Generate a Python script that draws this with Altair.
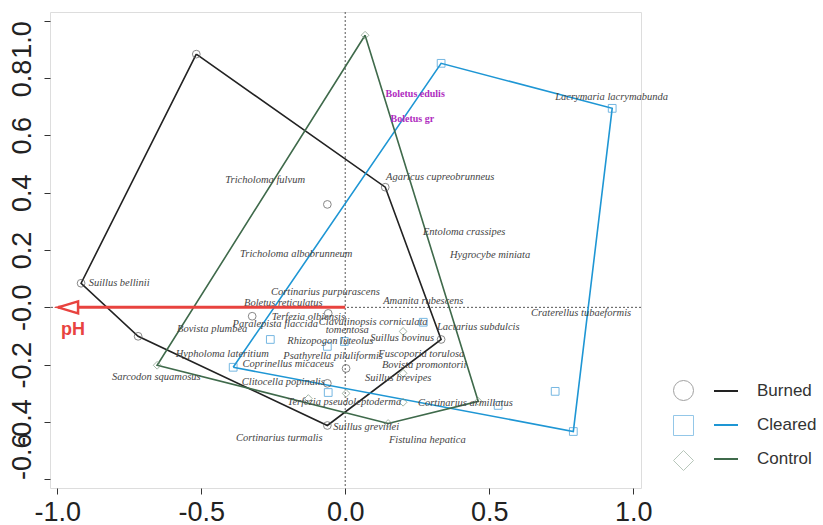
import altair as alt
import pandas as pd

# ---- site scores (CCA axis 1 / axis 2) per treatment ----
burned_x = [-0.517, 0.139, 0.333, -0.062, -0.719, -0.917, -0.062, -0.323, -0.059, 0.003, -0.062]
burned_y = [0.883, 0.419, -0.112, -0.412, -0.101, 0.084, 0.359, -0.031, -0.021, -0.213, -0.265]
burned_hull = [0, 1, 2, 3, 4, 5]

cleared_x = [0.333, 0.927, 0.792, -0.389, -0.260, -0.062, -0.003, 0.271, -0.059, 0.531, 0.729]
cleared_y = [0.851, 0.694, -0.433, -0.209, -0.112, -0.136, -0.119, -0.052, -0.297, -0.342, -0.293]
cleared_hull = [3, 0, 1, 2]

control_x = [0.069, 0.462, 0.149, -0.653, 0.201, 0.201, 0.003, -0.128, 0.201]
control_y = [0.949, -0.328, -0.405, -0.202, -0.084, -0.230, -0.300, -0.318, -0.331]
control_hull = [0, 1, 2, 3]

groups = ["Burned", "Cleared", "Control"]
site_codes = ["burned", "cleared", "control"]
hull_colors = ["#222222", "#1e96d4", "#3f6a4b"]
site_colors = ["#555555", "#3d9ad6", "#7d9882"]
site_shapes = ["circle", "square", "diamond"]

# ---- species scores ----
species = [
    "Boletus edulis", "Boletus gr", "Lacrymaria lacrymabunda", "Agaricus cupreobrunneus",
    "Tricholoma fulvum", "Tricholoma albobrunneum", "Entoloma crassipes", "Hygrocybe miniata",
    "Amanita rubescens", "Craterellus tubaeformis", "Lactarius subdulcis", "Suillus bellinii",
    "Cortinarius purpurascens", "Boletus reticulatus", "Terfezia olbiensis", "Paralepista flaccida",
    "Bovista plumbea", "Clavulinopsis corniculata", "tomentosa", "Rhizopogon luteolus",
    "Suillus bovinus", "Hypholoma lateritium", "Psathyrella piluliformis", "Fuscoporia torulosa",
    "Bovista promontorii", "Coprinellus micaceus", "Sarcodon squamosus", "Suillus brevipes",
    "Clitocella popinalis", "Terfezia pseudoleptoderma", "Cortinarius armillatus",
    "Suillus grevillei", "Cortinarius turmalis", "Fistulina hepatica",
]
species_x = [
    0.243, 0.233, 0.925, 0.330,
    -0.278, -0.170, 0.413, 0.503,
    0.271, 0.819, 0.462, -0.785,
    -0.069, -0.215, -0.128, -0.243,
    -0.462, 0.097, 0.007, -0.052,
    0.198, -0.427, -0.042, 0.264,
    0.274, -0.198, -0.656, 0.184,
    -0.215, -0.003, 0.417,
    0.073, -0.229, 0.285,
]
species_y = [
    0.743, 0.656, 0.733, 0.454,
    0.443, 0.185, 0.262, 0.181,
    0.021, -0.021, -0.070, 0.084,
    0.052, 0.014, -0.035, -0.059,
    -0.077, -0.052, -0.080, -0.119,
    -0.108, -0.161, -0.171, -0.161,
    -0.202, -0.199, -0.244, -0.248,
    -0.262, -0.331, -0.335,
    -0.419, -0.454, -0.464,
]
highlighted = ["Boletus edulis", "Boletus gr"]

# ---- environmental vector ----
env_name = ["pH"]
env_x = [-0.997]
env_y = [0.0]

# ---- tables ----
site_rows, hull_rows = [], []
for g, code, xs, ys, hull in [
    ("Burned", "burned", burned_x, burned_y, burned_hull),
    ("Cleared", "cleared", cleared_x, cleared_y, cleared_hull),
    ("Control", "control", control_x, control_y, control_hull),
]:
    for x, y in zip(xs, ys):
        site_rows.append({"site_group": code, "x": x, "y": y})
    for k, i in enumerate(hull + hull[:1]):
        hull_rows.append({"group": g, "k": k, "x": xs[i], "y": ys[i]})
sites = pd.DataFrame(site_rows)
hulls = pd.DataFrame(hull_rows)
spp = pd.DataFrame({"name": species, "x": species_x, "y": species_y})
spp["hl"] = spp["name"].isin(highlighted)
env = pd.DataFrame({"name": env_name, "x": env_x, "y": env_y, "x0": [0.0] * len(env_x)})
origin = pd.DataFrame({"v": [0.0]})

FONT = "Liberation Sans"
xscale = alt.Scale(domain=[-1.025, 1.027], nice=False, zero=False)
yscale = alt.Scale(domain=[-0.63, 1.03], nice=False, zero=False)
xaxis = alt.Axis(
    values=[-1.0, -0.5, 0.0, 0.5, 1.0],
    labelExpr="(datum.value < 0 ? '-' : '') + format(abs(datum.value), '.1f')",
    title=None, grid=False, domain=False,
    labelFont=FONT, labelFontSize=27, labelColor="#222222",
    tickSize=6, tickColor="#333333", labelPadding=5, labelFlush=False,
)
# end labels of the rotated y axis are kept inside the frame
yaxis = alt.Axis(
    values=[-0.6, -0.4, -0.2, 0.0, 0.2, 0.4, 0.6, 0.8, 1.0],
    labelExpr="(datum.value <= 0 ? '-' : '') + format(abs(datum.value), '.1f')",
    title=None, grid=False, domain=False,
    labelFont=FONT, labelFontSize=27, labelColor="#222222",
    labelAngle=270, labelBaseline="bottom",
    labelAlign={
        "condition": [
            {"test": "datum.value > 0.99", "value": "right"},
            {"test": "datum.value < -0.59", "value": "left"},
        ],
        "value": "center",
    },
    tickSize=6, tickColor="#333333", labelPadding=8,
    labelOverlap=False, labelFlush=False,
)
X = lambda f="x": alt.X(f"{f}:Q", scale=xscale, axis=xaxis)
Y = lambda f="y": alt.Y(f"{f}:Q", scale=yscale, axis=yaxis)

# dotted zero lines
vline = alt.Chart(origin).mark_rule(color="#555555", strokeDash=[2, 2], strokeWidth=1).encode(
    x=alt.X("v:Q", scale=xscale, axis=xaxis))
hline = alt.Chart(origin).mark_rule(color="#555555", strokeDash=[2, 2], strokeWidth=1).encode(
    y=alt.Y("v:Q", scale=yscale, axis=yaxis))

# convex hulls
hull_layer = alt.Chart(hulls).mark_line(strokeWidth=1.6).encode(
    x=X(), y=Y(),
    order="k:Q",
    color=alt.Color(
        "group:N",
        scale=alt.Scale(domain=groups, range=hull_colors),
        legend=alt.Legend(
            orient="none", legendX=663, legendY=366, title=None,
            symbolType="stroke", symbolSize=576, symbolStrokeWidth=2,
            labelFont=FONT, labelFontSize=17, labelColor="#333333",
            labelOffset=18, rowPadding=13, padding=0,
        ),
    ),
)

# site markers; their legend shows the marker shapes beside the hull-line legend
site_legend = alt.Legend(
    orient="none", legendX=623, legendY=368, title=None,
    symbolSize=400, symbolStrokeWidth=1, symbolOpacity=0.55,
    symbolStrokeColor={"expr": "datum.value === 'cleared' ? '#3d9ad6' : '#666666'"},
    labelExpr="''", labelFontSize=1, labelOffset=0, rowPadding=10, padding=0,
)
site_layer = alt.Chart(sites).mark_point(size=60, filled=False, strokeWidth=1).encode(
    x=X(), y=Y(),
    shape=alt.Shape("site_group:N", scale=alt.Scale(domain=site_codes, range=site_shapes), legend=site_legend),
    color=alt.Color("site_group:N", scale=alt.Scale(domain=site_codes, range=site_colors), legend=site_legend),
)

species_layer = alt.Chart(spp).transform_filter("!datum.hl").mark_text(
    font="Liberation Serif", fontStyle="italic", fontSize=10.5, color="#454545"
).encode(x=X(), y=Y(), text="name:N")

highlight_layer = alt.Chart(spp).transform_filter("datum.hl").mark_text(
    font="Liberation Serif", fontWeight="bold", fontSize=10, color="#b02cc0"
).encode(x=X(), y=Y(), text="name:N")

# pH biplot arrow
arrow_line = alt.Chart(env).mark_rule(color="#e8433f", strokeWidth=3).encode(
    x=X(), x2="x0:Q", y=Y())
arrow_head = alt.Chart(env).mark_point(
    shape="M-1,0L1,-0.6L1,0.6Z", size=400, filled=True, fill="white",
    stroke="#e8433f", strokeWidth=2.5, xOffset=10, opacity=1,
).encode(x=X(), y=Y())
arrow_label = alt.Chart(env).mark_text(
    font=FONT, fontWeight="bold", fontSize=18, color="#e8433f", dx=15, dy=23
).encode(x=X(), y=Y(), text="name:N")

chart = alt.layer(
    vline, hline, hull_layer, site_layer, species_layer, highlight_layer,
    arrow_line, arrow_head, arrow_label,
).resolve_scale(color="independent", shape="independent").resolve_legend(
    color="independent", shape="independent"
).properties(
    width=591, height=476,
    padding={"left": 50, "top": 12, "right": 182, "bottom": 37},
    autosize=alt.AutoSizeParams(type="none"),
).configure_view(stroke="#333333", strokeWidth=1.5).configure(background="white")

chart.save("out.html", embed_options={"renderer": "svg", "actions": False})
